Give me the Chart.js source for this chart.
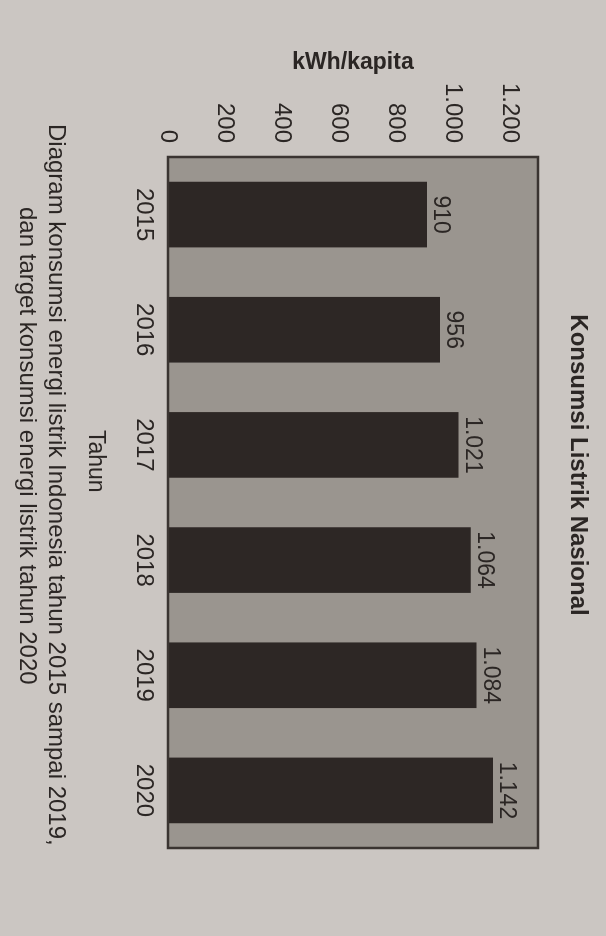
<!DOCTYPE html>
<html>
<head>
<meta charset="utf-8">
<script src="https://cdn.jsdelivr.net/npm/chart.js@4.4.1/dist/chart.umd.min.js"></script>
<style>
  html, body { margin: 0; padding: 0; }
  body {
    width: 606px; height: 936px; overflow: hidden;
    background: #cbc6c2;
    font-family: "Liberation Sans", Arial, sans-serif;
    color: #2b2624;
  }
  /* the printed page is photographed sideways: draw upright, then turn it 90deg clockwise */
  #page {
    position: absolute; left: 0; top: 0;
    width: 936px; height: 606px;
    transform-origin: 0 0;
    transform: translate(606px, 0) rotate(90deg);
  }
  #page canvas { position: absolute; left: 0; top: 0; }
  .txt { position: absolute; white-space: nowrap; line-height: 1; }
  #title { left: 0; width: 930px; text-align: center; top: 15px; font-size: 24px; font-weight: bold; }
  #xTitle { left: 430px; top: 498px; font-size: 23px; }
  #cap1 { left: 124px; top: 537px; font-size: 24px; }
  #cap2 { left: 207px; top: 566px; font-size: 24px; }
</style>
</head>
<body>
<div id="page">
  <canvas id="canvas" width="936" height="606"></canvas>
  <div class="txt" id="title">Konsumsi Listrik Nasional</div>
  <div class="txt" id="xTitle">Tahun</div>
  <div class="txt" id="cap1">Diagram konsumsi energi listrik Indonesia tahun 2015 sampai 2019,</div>
  <div class="txt" id="cap2">dan target konsumsi energi listrik tahun 2020</div>
</div>
<script>
const years = ['2015', '2016', '2017', '2018', '2019', '2020'];
const consumption = [910, 956, 1021, 1064, 1084, 1142];
const yTicks = [0, 200, 400, 600, 800, 1000, 1200];

const colors = {
    ink: '#2b2624',
    bar: '#2d2725',
    plot: '#9a958f',
    frame: '#3a3431'
};

// 1064 -> "1.064"
const fmt = v => String(v).replace(/\B(?=(\d{3})+(?!\d))/g, '.');

// plot background + frame around the chart area
const framePlugin = {
    id: 'frame',
    beforeDatasetsDraw(chart) {
        const { ctx, chartArea: a } = chart;
        ctx.save();
        ctx.fillStyle = colors.plot;
        ctx.fillRect(a.left, a.top, a.right - a.left, a.bottom - a.top);
        ctx.restore();
    },
    afterDatasetsDraw(chart) {
        const { ctx, chartArea: a } = chart;
        ctx.save();
        ctx.strokeStyle = colors.frame;
        ctx.lineWidth = 2.5;
        ctx.strokeRect(a.left, a.top, a.right - a.left, a.bottom - a.top);
        ctx.restore();
    }
};

// value on top of each bar
const valueLabels = {
    id: 'valueLabels',
    afterDatasetsDraw(chart) {
        const ctx = chart.ctx;
        const meta = chart.getDatasetMeta(0);
        ctx.save();
        ctx.font = '23px "Liberation Sans", Arial, sans-serif';
        ctx.fillStyle = colors.ink;
        ctx.textAlign = 'center';
        ctx.textBaseline = 'alphabetic';
        meta.data.forEach((bar, i) => {
            ctx.fillText(fmt(consumption[i]), bar.x, bar.y - 7);
        });
        ctx.restore();
    }
};

const ctx = document.getElementById('canvas').getContext('2d');
new Chart(ctx, {
    type: 'bar',
    data: {
        labels: years,
        datasets: [{
            data: consumption,
            backgroundColor: colors.bar,
            borderWidth: 0,
            barPercentage: 0.57,
            categoryPercentage: 1
        }]
    },
    options: {
        responsive: false,
        animation: false,
        layout: { padding: { left: 0, right: 88, top: 68, bottom: 0 } },
        plugins: {
            legend: { display: false },
            tooltip: { enabled: false },
            title: { display: false }
        },
        scales: {
            x: {
                grid: { display: false, drawTicks: false },
                border: { display: false },
                ticks: {
                    color: colors.ink,
                    padding: 10,
                    font: { family: '"Liberation Sans", Arial, sans-serif', size: 24 }
                },
                afterFit: s => { s.height = 168; }
            },
            y: {
                min: 0,
                max: 1300,
                grid: { display: false, drawTicks: false },
                border: { display: false },
                afterBuildTicks: s => { s.ticks = yTicks.map(v => ({ value: v })); },
                ticks: {
                    color: colors.ink,
                    padding: 14,
                    font: { family: '"Liberation Sans", Arial, sans-serif', size: 24 },
                    callback: v => fmt(v)
                },
                title: {
                    display: true,
                    text: 'kWh/kapita',
                    color: colors.ink,
                    font: { family: '"Liberation Sans", Arial, sans-serif', size: 23, weight: 'bold' },
                    padding: { top: 49, bottom: 0 }
                },
                afterFit: s => { s.width = 157; }
            }
        }
    },
    plugins: [framePlugin, valueLabels]
});
</script>
</body>
</html>
